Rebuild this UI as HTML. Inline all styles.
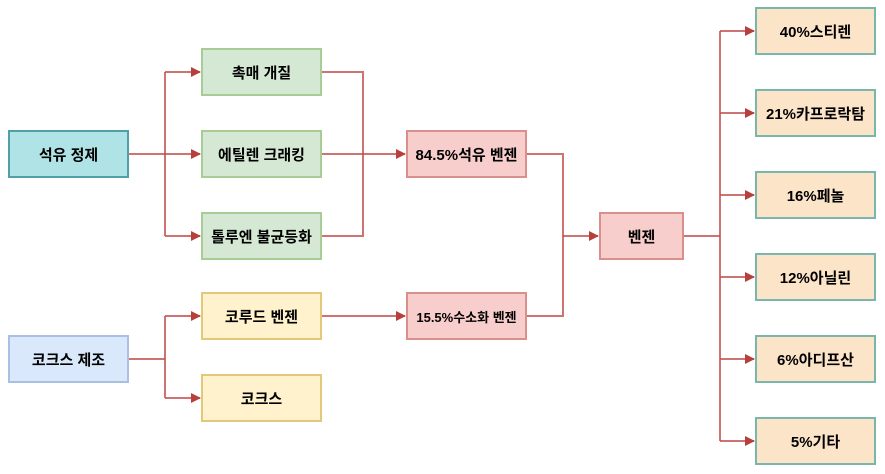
<!DOCTYPE html>
<html><head><meta charset="utf-8"><style>
body{margin:0;width:885px;height:474px;background:#fff;position:relative;overflow:hidden;font-family:"Liberation Sans","Noto Sans CJK KR",sans-serif;}
.b{position:absolute;box-sizing:border-box;border:2px solid;display:flex;align-items:center;justify-content:center;font-weight:bold;font-size:15px;color:#000;}
.g{background:#d5e8d4;border-color:#a9cc97;left:201px;width:121px;height:48px;}
.p{background:#f8cecc;border-color:#d9908c;}
.o{background:#fce4c8;border-color:#79b7ad;left:755px;width:121px;height:48px;}
.y{background:#fff2cc;border-color:#e2c97a;left:201px;width:121px;height:48px;}
svg{position:absolute;left:0;top:0}
</style></head><body>
<svg width="885" height="474">
<defs><marker id="a" markerWidth="10" markerHeight="10" refX="9" refY="5" orient="auto" markerUnits="userSpaceOnUse"><path d="M0,0 L10,5 L0,10 Z" fill="#b8403c"/></marker></defs>
<g stroke="#c0504d" stroke-opacity="0.8" stroke-width="2" fill="none">
<path d="M129,154H165"/><path d="M165,72V236"/>
<path d="M165,72H200" marker-end="url(#a)"/><path d="M165,154H200" marker-end="url(#a)"/><path d="M165,236H200" marker-end="url(#a)"/>
<path d="M129,359H165"/><path d="M165,316V398"/>
<path d="M165,316H200" marker-end="url(#a)"/><path d="M165,398H200" marker-end="url(#a)"/>
<path d="M322,72H363V236H322"/><path d="M322,154H405" marker-end="url(#a)"/>
<path d="M322,316H405" marker-end="url(#a)"/>
<path d="M527,154H563V316H527"/><path d="M563,236H598" marker-end="url(#a)"/>
<path d="M684,236H720"/><path d="M720,31V441"/>
<path d="M720,31H754" marker-end="url(#a)"/><path d="M720,113H754" marker-end="url(#a)"/><path d="M720,195H754" marker-end="url(#a)"/>
<path d="M720,277H754" marker-end="url(#a)"/><path d="M720,359H754" marker-end="url(#a)"/><path d="M720,441H754" marker-end="url(#a)"/>
</g></svg>
<div class="b" style="left:8px;top:130px;width:121px;height:48px;background:#b0e3e6;border-color:#4fa0a8;">석유 정제</div>
<div class="b g" style="top:48px">촉매 개질</div>
<div class="b g" style="top:130px">에틸렌 크래킹</div>
<div class="b g" style="top:212px">톨루엔 불균등화</div>
<div class="b" style="left:8px;top:335px;width:121px;height:48px;background:#dae8fc;border-color:#a9c0e2;">코크스 제조</div>
<div class="b y" style="top:292px">코루드 벤젠</div>
<div class="b y" style="top:374px">코크스</div>
<div class="b p" style="left:406px;top:130px;width:121px;height:48px;">84.5%석유 벤젠</div>
<div class="b p" style="left:406px;top:292px;width:121px;height:48px;font-size:13px">15.5%수소화 벤젠</div>
<div class="b p" style="left:599px;top:212px;width:85px;height:48px;">벤젠</div>
<div class="b o" style="top:7px">40%스티렌</div>
<div class="b o" style="top:89px">21%카프로락탐</div>
<div class="b o" style="top:171px">16%페놀</div>
<div class="b o" style="top:253px">12%아닐린</div>
<div class="b o" style="top:335px">6%아디프산</div>
<div class="b o" style="top:417px">5%기타</div>
</body></html>
